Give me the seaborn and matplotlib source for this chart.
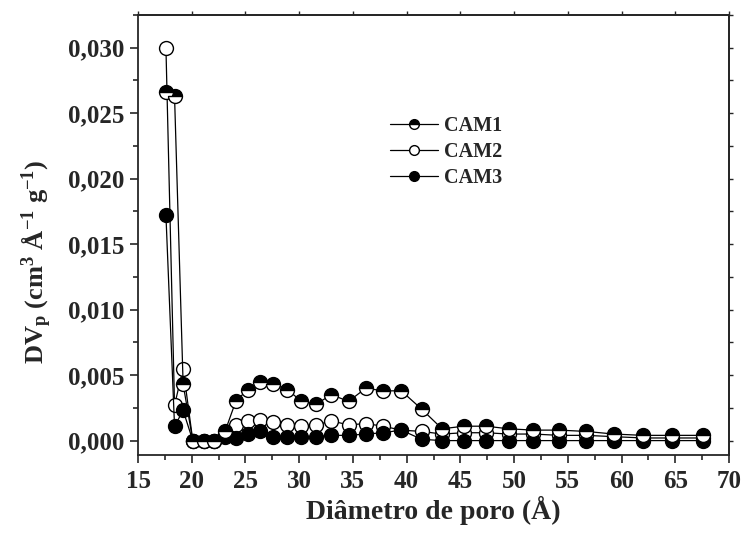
import matplotlib
matplotlib.use("Agg")
import matplotlib.pyplot as plt
import seaborn as sns
import pandas as pd
from matplotlib.lines import Line2D
from matplotlib.ticker import MultipleLocator, FuncFormatter, NullFormatter

# ---- data ----
diam = [17.6, 18.4, 19.2, 20.1, 21.1, 22.1, 23.1, 24.1, 25.2, 26.4, 27.6, 28.9,
        30.2, 31.6, 33.0, 34.6, 36.2, 37.8, 39.5, 41.4, 43.3, 45.3, 47.4, 49.5,
        51.8, 54.2, 56.7, 59.3, 62.0, 64.7, 67.6]
cam1 = [0.0266, 0.0263, 0.0043, 0.0000, 0.0000, 0.0000, 0.0007, 0.0030, 0.0039,
        0.0045, 0.0043, 0.0039, 0.0030, 0.0028, 0.0035, 0.0030, 0.0040, 0.0038,
        0.0038, 0.0024, 0.0009, 0.0011, 0.0011, 0.0009, 0.0008, 0.0008, 0.0007,
        0.0005, 0.0004, 0.0004, 0.0004]
cam2 = [0.0300, 0.0027, 0.0055, 0.0000, 0.0000, 0.0000, 0.0005, 0.0012, 0.0015,
        0.0016, 0.0014, 0.0012, 0.0011, 0.0012, 0.0015, 0.0012, 0.0013, 0.0011,
        0.0008, 0.0007, 0.0005, 0.0006, 0.0006, 0.0005, 0.0005, 0.0004, 0.0004,
        0.0003, 0.0002, 0.0002, 0.0002]
cam3 = [0.0172, 0.0011, 0.0023, 0.0000, 0.0000, 0.0000, 0.0003, 0.0002, 0.0005,
        0.0007, 0.0003, 0.0003, 0.0003, 0.0003, 0.0004, 0.0004, 0.0005, 0.0006,
        0.0008, 0.0001, 0.0000, 0.0000, 0.0000, 0.0000, 0.0000, 0.0000, 0.0000,
        0.0000, 0.0000, 0.0000, 0.0000]
series_names = ["CAM1", "CAM2", "CAM3"]
xlabel = "Diâmetro de poro (Å)"
ylabel = r"DV$_{p}$ (cm$^{3}$ Å$^{-1}$ g$^{-1}$)"

sns.set_style("ticks")
plt.rcParams["font.family"] = ["Liberation Serif", "DejaVu Serif"]
plt.rcParams["font.weight"] = "bold"
plt.rcParams["mathtext.fontset"] = "custom"
plt.rcParams["mathtext.rm"] = "Liberation Serif:bold"
plt.rcParams["mathtext.it"] = "Liberation Serif:bold"
plt.rcParams["mathtext.bf"] = "Liberation Serif:bold"
plt.rcParams["mathtext.default"] = "rm"

fig = plt.figure(figsize=(7.42, 5.33), dpi=100)
ax = fig.add_axes([138/742, 1-455/533, (729-138)/742, (455-15)/533])

df = pd.DataFrame({"d": diam, "CAM1": cam1, "CAM2": cam2, "CAM3": cam3})

styles = {
    "CAM1": dict(marker="o", fillstyle="top", markerfacecolor="black",
                 markerfacecoloralt="white"),
    "CAM2": dict(marker="o", fillstyle="full", markerfacecolor="white"),
    "CAM3": dict(marker="o", fillstyle="full", markerfacecolor="black"),
}
zorders = {"CAM1": 5, "CAM2": 3, "CAM3": 4}

for name in series_names:
    sns.lineplot(data=df, x="d", y=name, ax=ax, color="black", lw=0.9,
                 markersize=10, markeredgecolor="black", markeredgewidth=1.0,
                 zorder=zorders[name], sort=False, **styles[name])

ax.set_xlim(15, 70)
ax.set_ylim(-0.0011, 0.0325)
ax.xaxis.set_major_locator(MultipleLocator(5))
ax.xaxis.set_minor_locator(MultipleLocator(2.5))
ax.yaxis.set_major_locator(MultipleLocator(0.005))
ax.yaxis.set_minor_locator(MultipleLocator(0.0025))
ax.yaxis.set_major_formatter(FuncFormatter(lambda v, p: f"{v:.3f}".replace(".", ",")))
ax.xaxis.set_major_formatter(FuncFormatter(lambda v, p: f"{v:.0f}"))

ax.tick_params(which="both", direction="out", top=False, right=False, width=1.2)
ax.tick_params(which="major", length=6, labelsize=18)
ax.tick_params(which="minor", length=3.5)
ax.tick_params(axis="x", which="major", pad=5)
for lab in ax.get_xticklabels() + ax.get_yticklabels():
    lab.set_fontweight("bold")
for s in ax.spines.values():
    s.set_linewidth(1.3)
    s.set_visible(True)

# small ticks on top and right spines
secx = ax.secondary_xaxis("top")
secx.xaxis.set_major_locator(MultipleLocator(5))
secx.xaxis.set_major_formatter(NullFormatter())
secx.tick_params(direction="out", length=3, width=1.0)
secx.spines["top"].set_linewidth(1.3)
secy = ax.secondary_yaxis("right")
secy.yaxis.set_major_locator(MultipleLocator(0.005))
secy.yaxis.set_minor_locator(MultipleLocator(0.0025))
secy.yaxis.set_major_formatter(NullFormatter())
secy.tick_params(which="both", direction="out", length=3, width=1.0)
secy.spines["right"].set_linewidth(1.3)

ax.set_xlabel(xlabel, fontsize=20, fontweight="bold", labelpad=2)
ax.set_ylabel(ylabel, fontsize=19, fontweight="bold")
ax.yaxis.set_label_coords(-0.142, 0.44)

handles = []
for name in series_names:
    st = dict(styles[name])
    handles.append(Line2D([], [], color="black", lw=0.9, markersize=7,
                          markeredgecolor="black", **st))
leg = ax.legend(handles, series_names, loc="upper left",
                bbox_to_anchor=((390-138)/591, (455-116)/440),
                frameon=False, handlelength=2.4, handletextpad=0.3,
                labelspacing=0.3, borderaxespad=0, borderpad=0,
                prop={"family": "Liberation Serif", "weight": "bold", "size": 14.5})

fig.savefig("out.png", dpi=100)
